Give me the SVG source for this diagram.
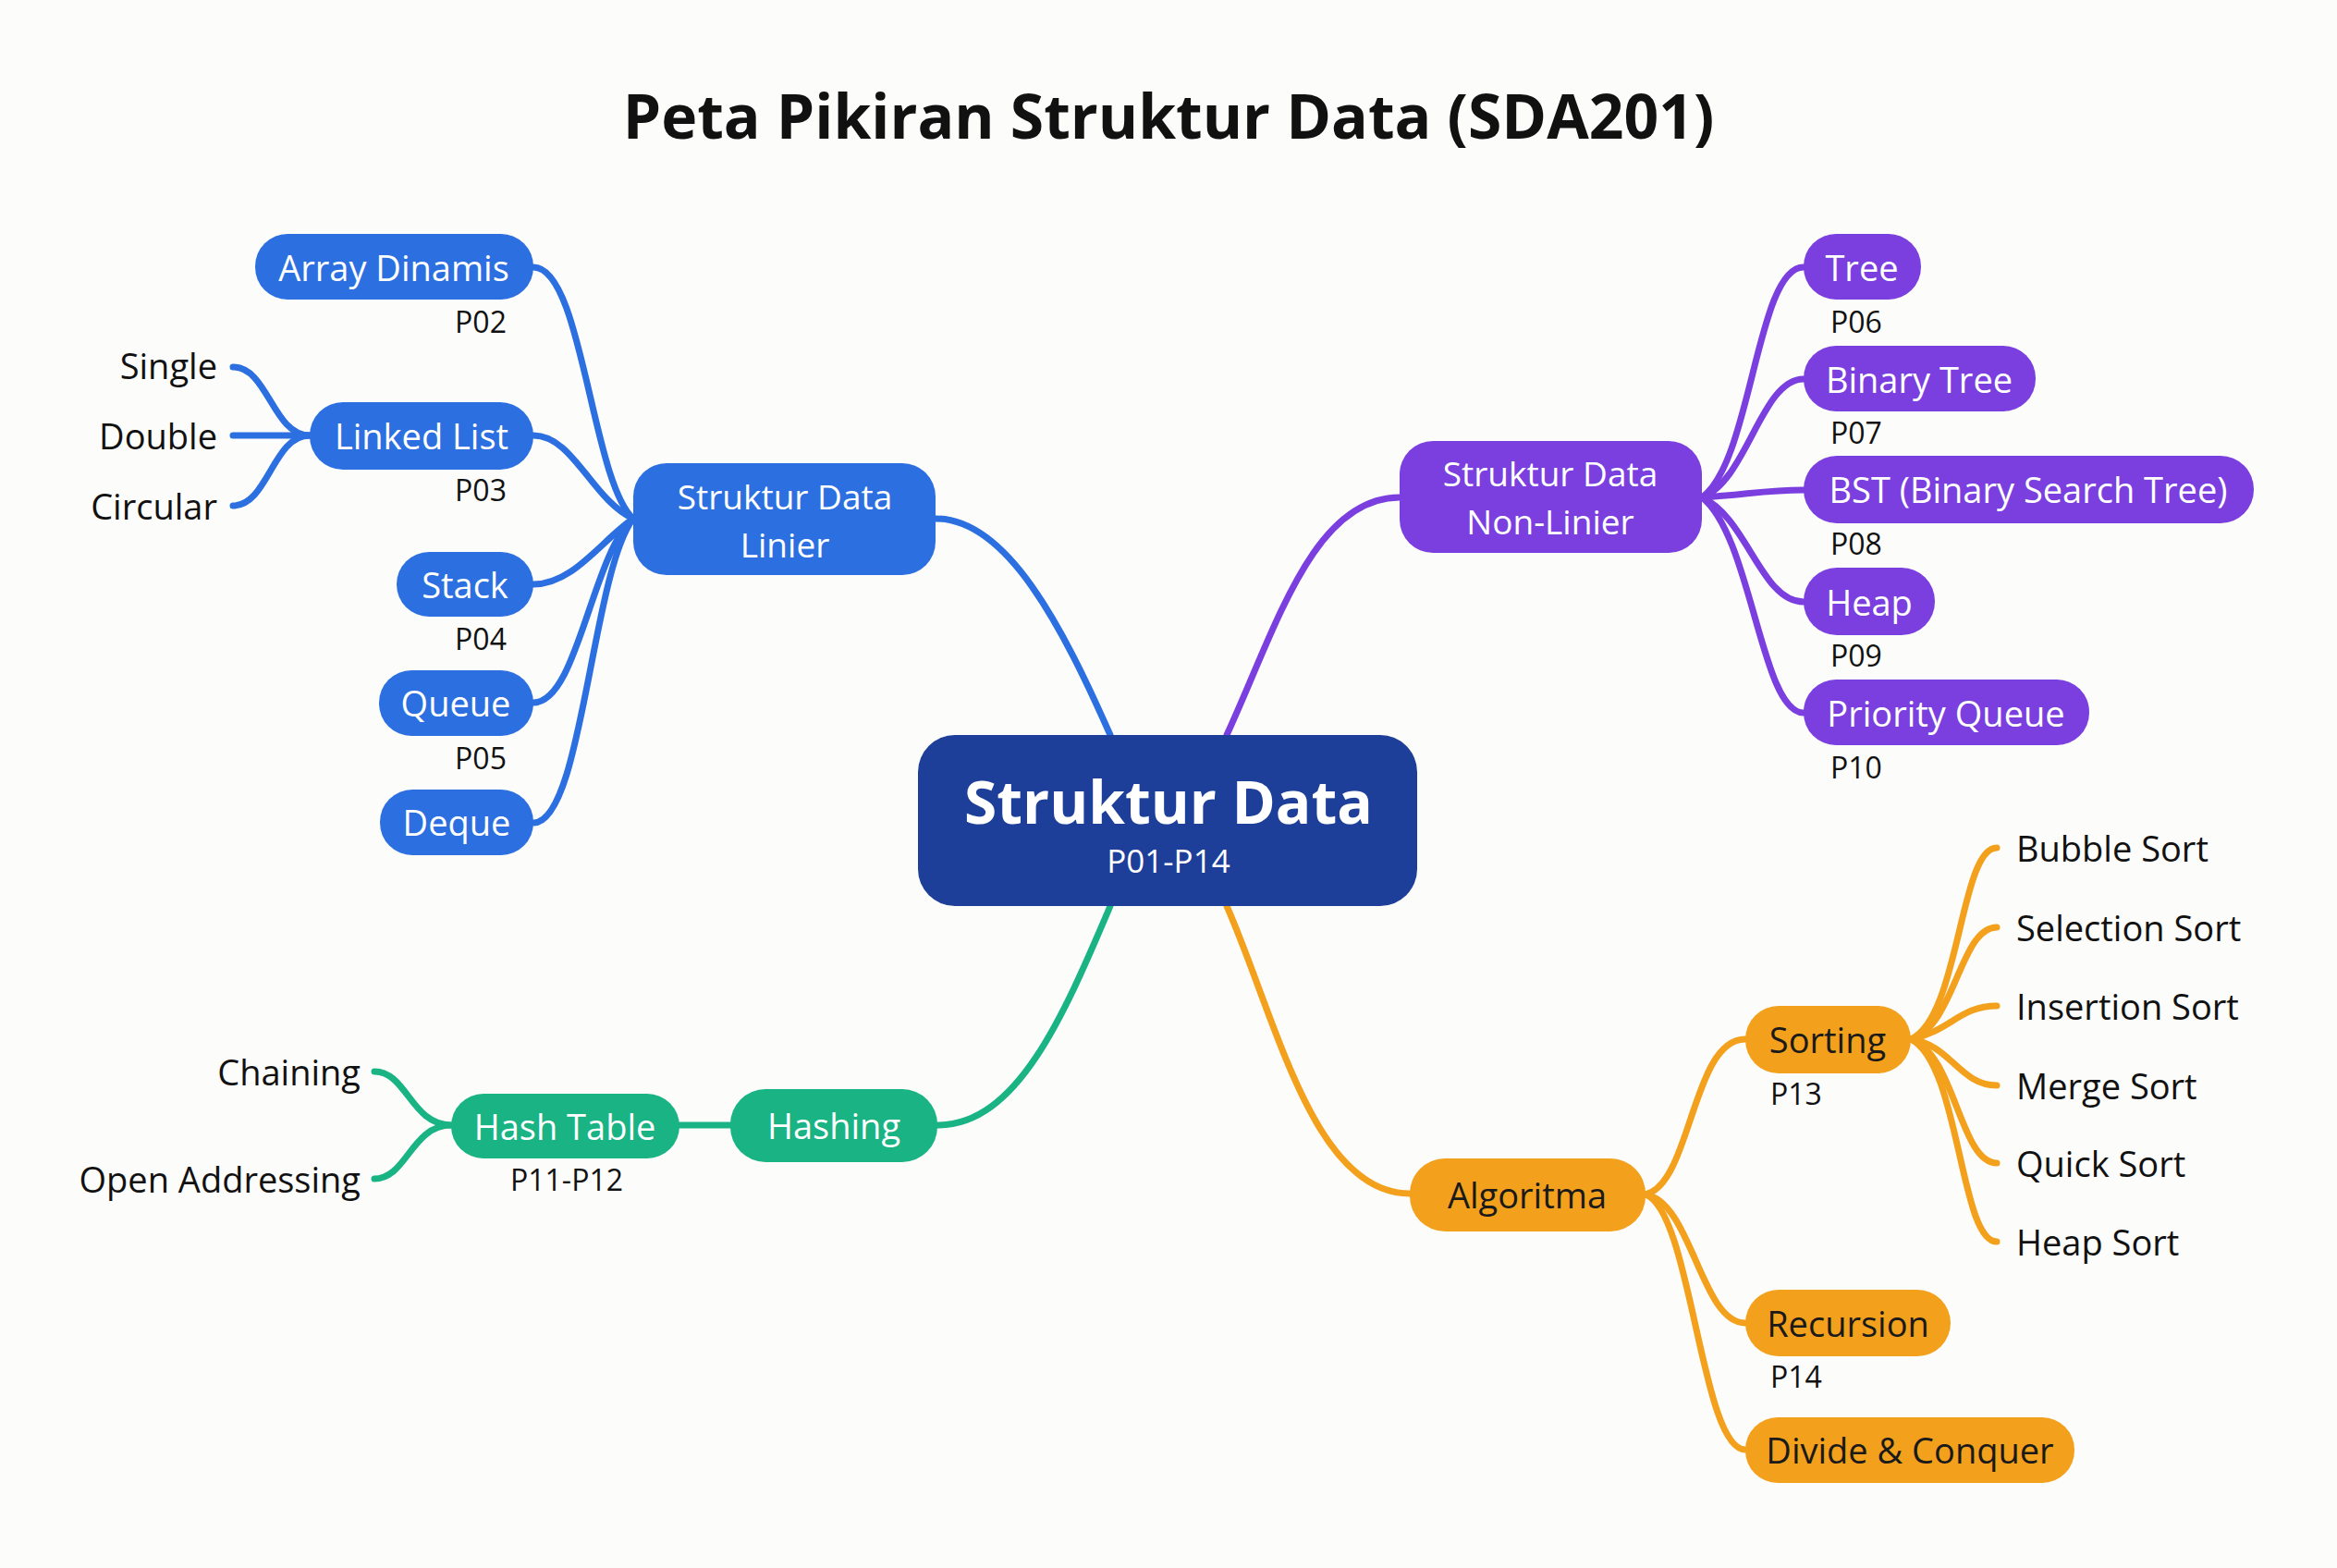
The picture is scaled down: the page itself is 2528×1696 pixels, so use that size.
<svg xmlns="http://www.w3.org/2000/svg" width="2528" height="1696" viewBox="0 0 2528 1696">
<style>
text{font-family:"Open Sans","Noto Sans","Liberation Sans",sans-serif;dominant-baseline:central}
.title{font-size:66px;font-weight:700;fill:#111;text-anchor:middle}
.nt{font-size:38px;fill:#fff;text-anchor:middle}
.nt2{font-size:37px;fill:#fff;text-anchor:middle}
.ntd{font-size:38px;fill:#1a1a1a;text-anchor:middle}
.leaf{font-size:38px;fill:#111}
.lbl{font-size:32px;fill:#111}
.c{fill:none;stroke-linecap:round;stroke-width:7}
.cb{stroke:#2c6fe0}.cp{stroke:#7b3fe0}.cg{stroke:#19b384}.co{stroke:#f3a01c}
.b{fill:#2c6fe0}.p{fill:#7b3fe0}.g{fill:#19b384}.o{fill:#f3a01c}
</style>
<rect width="2528" height="1696" fill="#fcfcfb"/>
<text class="title" x="1264" y="124">Peta Pikiran Struktur Data (SDA201)</text>
<g id="connectors">
<path class="c cb" stroke-width="9" d="M1012 561 C1090 561 1150 680 1201 795"/>
<path class="c cp" stroke-width="9" d="M1327 795 C1380 680 1420 538 1514 538"/>
<path class="c cg" stroke-width="9" d="M1201 980 C1150 1100 1100 1217 1014 1217"/>
<path class="c co" stroke-width="9" d="M1327 980 C1380 1100 1420 1291 1525 1291"/>
<path class="c cb" d="M577 289 C630 289 640 520 685 561"/>
<path class="c cb" d="M577 471 C620 471 640 540 685 561"/>
<path class="c cb" d="M577 632 C620 632 650 585 685 561"/>
<path class="c cb" d="M577 760 C625 760 640 600 685 561"/>
<path class="c cb" d="M577 890 C630 890 640 620 685 561"/>
<path class="c cb" d="M335 471 C295 471 290 397 252 397"/>
<path class="c cb" d="M335 471 L252 471"/>
<path class="c cb" d="M335 471 C295 471 290 547 252 547"/>
<path class="c cp" d="M1841 538 C1895 500 1900 289 1951 289"/>
<path class="c cp" d="M1841 538 C1890 520 1905 410 1951 410"/>
<path class="c cp" d="M1841 538 C1890 535 1910 530 1951 530"/>
<path class="c cp" d="M1841 538 C1890 560 1905 651 1951 651"/>
<path class="c cp" d="M1841 538 C1895 580 1905 771 1951 771"/>
<path class="c cg" d="M735 1217 L790 1217"/>
<path class="c cg" d="M488 1217 C445 1217 440 1159 405 1159"/>
<path class="c cg" d="M488 1217 C445 1217 440 1275 405 1275"/>
<path class="c co" d="M1780 1292 C1830 1280 1830 1124 1888 1124"/>
<path class="c co" d="M1780 1292 C1830 1300 1840 1431 1888 1431"/>
<path class="c co" d="M1780 1292 C1830 1310 1840 1568 1888 1568"/>
<path class="c co" d="M2067 1124 C2120 1100 2120 917 2160 917"/>
<path class="c co" d="M2067 1124 C2115 1110 2120 1003 2160 1003"/>
<path class="c co" d="M2067 1124 C2110 1115 2120 1088 2160 1088"/>
<path class="c co" d="M2067 1124 C2110 1130 2120 1174 2160 1174"/>
<path class="c co" d="M2067 1124 C2115 1140 2120 1258 2160 1258"/>
<path class="c co" d="M2067 1124 C2120 1150 2120 1343 2160 1343"/>
</g>
<g id="center"><rect x="993" y="795" width="540" height="185" rx="40" fill="#1e3f99"/>
<text x="1264" y="866" style="font-size:64px;font-weight:700;fill:#fff;text-anchor:middle">Struktur Data</text>
<text x="1264" y="930" style="font-size:35px;fill:#fff;text-anchor:middle">P01-P14</text></g>
<g id="linier"><rect class="b" x="685" y="501" width="327" height="121" rx="36"/>
<text class="nt2" x="849" y="536">Struktur Data</text><text class="nt2" x="849" y="588">Linier</text></g>
<g id="array"><rect class="b" x="276" y="253" width="301" height="71" rx="35"/><text class="nt" x="426" y="289">Array Dinamis</text><text class="lbl" x="520" y="347" text-anchor="middle">P02</text></g>
<g id="linkedlist"><rect class="b" x="335" y="435" width="242" height="73" rx="36"/><text class="nt" x="456" y="471">Linked List</text><text class="lbl" x="520" y="529" text-anchor="middle">P03</text></g>
<g id="single"><text class="leaf" x="235" y="395" text-anchor="end">Single</text></g>
<g id="double"><text class="leaf" x="235" y="471" text-anchor="end">Double</text></g>
<g id="circular"><text class="leaf" x="235" y="547" text-anchor="end">Circular</text></g>
<g id="stack"><rect class="b" x="429" y="597" width="148" height="70" rx="35"/><text class="nt" x="503" y="632">Stack</text><text class="lbl" x="520" y="690" text-anchor="middle">P04</text></g>
<g id="queue"><rect class="b" x="410" y="725" width="167" height="71" rx="35"/><text class="nt" x="493" y="760">Queue</text><text class="lbl" x="520" y="819" text-anchor="middle">P05</text></g>
<g id="deque"><rect class="b" x="411" y="854" width="166" height="71" rx="35"/><text class="nt" x="494" y="889">Deque</text></g>
<g id="nonlinier"><rect class="p" x="1514" y="477" width="327" height="121" rx="36"/>
<text class="nt2" x="1677" y="511">Struktur Data</text><text class="nt2" x="1677" y="563">Non-Linier</text></g>
<g id="tree"><rect class="p" x="1951" y="253" width="127" height="71" rx="35"/><text class="nt" x="2014" y="289">Tree</text><text class="lbl" x="1980" y="347">P06</text></g>
<g id="binarytree"><rect class="p" x="1951" y="374" width="251" height="71" rx="35"/><text class="nt" x="2076" y="410">Binary Tree</text><text class="lbl" x="1980" y="467">P07</text></g>
<g id="bst"><rect class="p" x="1951" y="493" width="487" height="73" rx="36"/><text class="nt" x="2194" y="529">BST (Binary Search Tree)</text><text class="lbl" x="1980" y="587">P08</text></g>
<g id="heap"><rect class="p" x="1951" y="614" width="142" height="73" rx="36"/><text class="nt" x="2022" y="651">Heap</text><text class="lbl" x="1980" y="708">P09</text></g>
<g id="pq"><rect class="p" x="1951" y="735" width="309" height="71" rx="35"/><text class="nt" x="2105" y="771">Priority Queue</text><text class="lbl" x="1980" y="829">P10</text></g>
<g id="hashing"><rect class="g" x="790" y="1178" width="224" height="79" rx="38"/><text class="nt" x="902" y="1217">Hashing</text></g>
<g id="hashtable"><rect class="g" x="488" y="1183" width="247" height="70" rx="35"/><text class="nt" x="611" y="1218">Hash Table</text><text class="lbl" x="613" y="1275" text-anchor="middle">P11-P12</text></g>
<g id="chaining"><text class="leaf" x="390" y="1159" text-anchor="end">Chaining</text></g>
<g id="openaddr"><text class="leaf" x="390" y="1275" text-anchor="end">Open Addressing</text></g>
<g id="algoritma"><rect class="o" x="1525" y="1253" width="255" height="79" rx="38"/><text class="ntd" x="1652" y="1292">Algoritma</text></g>
<g id="sorting"><rect class="o" x="1888" y="1088" width="179" height="73" rx="36"/><text class="ntd" x="1977" y="1124">Sorting</text><text class="lbl" x="1915" y="1182">P13</text></g>
<g id="recursion"><rect class="o" x="1888" y="1395" width="222" height="72" rx="36"/><text class="ntd" x="1999" y="1431">Recursion</text><text class="lbl" x="1915" y="1488">P14</text></g>
<g id="divide"><rect class="o" x="1888" y="1533" width="356" height="71" rx="35"/><text class="ntd" x="2066" y="1568">Divide &amp; Conquer</text></g>
<g id="bubble"><text class="leaf" x="2181" y="917">Bubble Sort</text></g>
<g id="selection"><text class="leaf" x="2181" y="1003">Selection Sort</text></g>
<g id="insertion"><text class="leaf" x="2181" y="1088">Insertion Sort</text></g>
<g id="merge"><text class="leaf" x="2181" y="1174">Merge Sort</text></g>
<g id="quick"><text class="leaf" x="2181" y="1258">Quick Sort</text></g>
<g id="heapsort"><text class="leaf" x="2181" y="1343">Heap Sort</text></g>
</svg>
